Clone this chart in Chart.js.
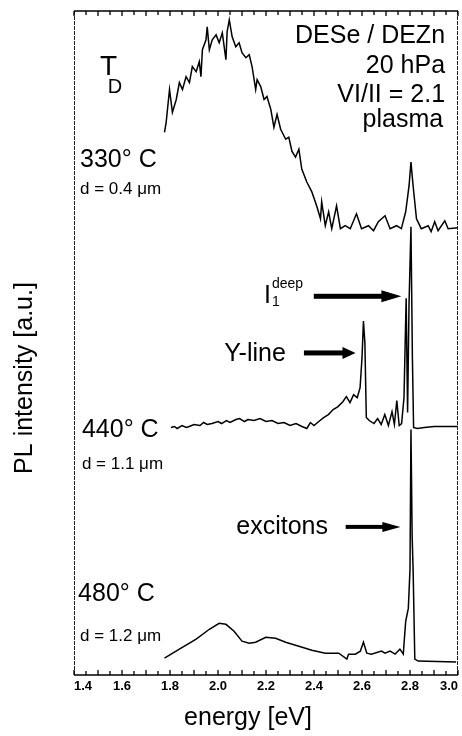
<!DOCTYPE html>
<html>
<head>
<meta charset="utf-8">
<script src="https://cdn.jsdelivr.net/npm/chart.js@4.4.0/dist/chart.umd.min.js"></script>
<style>
  html, body { margin: 0; padding: 0; background: #fff; }
  #chart { display: block; }
</style>
</head>
<body>
<canvas id="chart" width="462" height="736"></canvas>
<script>
// PL spectra for three deposition temperatures, stacked with offsets (a.u.)

const energy330 = [1.777, 1.784, 1.798, 1.810, 1.826, 1.839, 1.852, 1.867, 1.881, 1.893, 1.909, 1.922, 1.929, 1.935, 1.950, 1.955, 1.964, 1.976, 1.992, 2.005, 2.018, 2.033, 2.038, 2.047, 2.059, 2.074, 2.088, 2.100, 2.116, 2.130, 2.142, 2.157, 2.163, 2.178, 2.192, 2.204, 2.220, 2.233, 2.246, 2.261, 2.282, 2.295, 2.308, 2.323, 2.337, 2.349, 2.370, 2.391, 2.411, 2.427, 2.432, 2.447, 2.461, 2.474, 2.494, 2.510, 2.530, 2.551, 2.577, 2.598, 2.627, 2.648, 2.668, 2.696, 2.717, 2.744, 2.764, 2.782, 2.796, 2.804, 2.813, 2.827, 2.847, 2.876, 2.888, 2.903, 2.917, 2.945, 2.959, 3.000];
const intensity330 = [546, 556, 589, 566, 579, 596, 589, 602, 596, 612, 607, 617, 602, 629, 639, 652, 629, 639, 644, 636, 646, 619, 647, 659, 642, 632, 636, 626, 621, 624, 612, 589, 599, 592, 579, 582, 569, 551, 564, 549, 539, 541, 527, 521, 529, 509, 496, 486, 472, 459, 476, 452, 466, 449, 472, 449, 452, 449, 464, 449, 452, 447, 456, 462, 449, 452, 449, 466, 492, 516, 492, 459, 449, 452, 446, 456, 447, 457, 449, 450];

const energy440 = [1.804, 1.818, 1.830, 1.850, 1.868, 1.880, 1.900, 1.925, 1.940, 1.955, 1.975, 2.000, 2.015, 2.035, 2.050, 2.075, 2.090, 2.110, 2.125, 2.150, 2.175, 2.200, 2.225, 2.250, 2.275, 2.300, 2.325, 2.350, 2.370, 2.385, 2.400, 2.420, 2.440, 2.460, 2.480, 2.500, 2.520, 2.535, 2.550, 2.565, 2.580, 2.592, 2.600, 2.606, 2.612, 2.618, 2.630, 2.650, 2.665, 2.680, 2.695, 2.710, 2.725, 2.735, 2.745, 2.755, 2.765, 2.775, 2.784, 2.790, 2.796, 2.804, 2.810, 2.815, 2.830, 2.860, 2.900, 2.950, 3.000];
const intensity440 = [249, 250, 248, 251, 249, 250, 252, 251, 254, 252, 253, 255, 253, 256, 254, 257, 258, 255, 257, 256, 258, 255, 256, 253, 254, 251, 253, 250, 248, 254, 251, 255, 259, 262, 267, 270, 275, 280, 274, 282, 279, 289, 319, 356, 334, 259, 256, 253, 258, 252, 262, 251, 265, 252, 276, 251, 253, 279, 379, 264, 374, 451, 319, 249, 248, 249, 250, 250, 250];

const energy480 = [1.777, 1.839, 1.909, 1.964, 2.005, 2.033, 2.067, 2.100, 2.130, 2.157, 2.199, 2.240, 2.282, 2.337, 2.391, 2.447, 2.503, 2.537, 2.544, 2.572, 2.593, 2.606, 2.620, 2.639, 2.681, 2.696, 2.717, 2.738, 2.758, 2.772, 2.782, 2.793, 2.800, 2.804, 2.809, 2.813, 2.820, 2.834, 2.992];
const intensity480 = [17, 26, 36, 46, 52, 51, 44, 34, 32, 33, 38, 37, 33, 29, 25, 22, 22, 16, 21, 21, 24, 33, 22, 21, 24, 22, 24, 21, 26, 21, 54, 67, 106, 247, 139, 106, 16, 14, 13];

const xTickLabels = [1.4, 1.6, 1.8, 2.0, 2.2, 2.4, 2.6, 2.8, 3.0];
const xTitle = 'energy [eV]';
const yTitle = 'PL intensity [a.u.]';

const FONT = "'Liberation Sans', Arial, Helvetica, sans-serif";

const toPoints = (xs, ys) => xs.map((x, i) => ({ x, y: ys[i] }));

const notes = [
  { text: 'DESe / DEZn', x: 2.946, y: 636, size: 25, align: 'right' },
  { text: '20 hPa', x: 2.946, y: 606, size: 25, align: 'right' },
  { text: 'VI/II = 2.1', x: 2.946, y: 576, size: 25, align: 'right' },
  { text: 'plasma', x: 2.938, y: 551, size: 25, align: 'right' },
  { text: 'T', x: 1.508, y: 604, size: 28 },
  { text: 'D', x: 1.541, y: 586, size: 20 },
  { text: '330° C', x: 1.425, y: 511, size: 25 },
  { text: 'd = 0.4 μm', x: 1.425, y: 484, size: 17 },
  { text: '440° C', x: 1.433, y: 239, size: 25 },
  { text: 'd = 1.1 μm', x: 1.433, y: 207, size: 17 },
  { text: '480° C', x: 1.417, y: 74, size: 25 },
  { text: 'd = 1.2 μm', x: 1.425, y: 34, size: 17 },
  { text: 'Y-line', x: 2.026, y: 316, size: 25 },
  { text: 'I', x: 2.192, y: 374, size: 25 },
  { text: 'deep', x: 2.225, y: 389, size: 14 },
  { text: '1', x: 2.225, y: 371, size: 14 },
  { text: 'excitons', x: 2.076, y: 142, size: 25 }
];
const arrows = [
  { x0: 2.358, x1: 2.573, y: 324, w: 5, hl: 13, hw: 12 },
  { x0: 2.399, x1: 2.764, y: 381, w: 5, hl: 20, hw: 12 },
  { x0: 2.532, x1: 2.760, y: 149, w: 4, hl: 18, hw: 10 }
];

const decorations = {
  id: 'decorations',
  afterDraw(chart) {
    const { ctx, chartArea: a, scales: { x, y } } = chart;
    ctx.save();

    // frame
    ctx.strokeStyle = '#000';
    ctx.lineWidth = 1.3;
    ctx.beginPath();
    ctx.moveTo(a.left, a.top); ctx.lineTo(a.right, a.top);
    ctx.moveTo(a.left, a.bottom); ctx.lineTo(a.right, a.bottom);
    ctx.stroke();
    ctx.strokeStyle = '#222';
    ctx.lineWidth = 1;
    ctx.setLineDash([4, 1]);
    ctx.beginPath();
    ctx.moveTo(a.left + 0.5, a.top); ctx.lineTo(a.left + 0.5, a.bottom);
    ctx.moveTo(a.right - 0.5, a.top); ctx.lineTo(a.right - 0.5, a.bottom);
    ctx.stroke();
    ctx.setLineDash([]);

    // inward tick marks, top and bottom
    ctx.strokeStyle = '#000';
    ctx.lineWidth = 1.3;
    ctx.beginPath();
    for (let i = 0; i <= 32; i++) {
      const px = x.getPixelForValue(1.4 + i * 0.05);
      const len = i % 2 === 0 ? 5 : 4;
      ctx.moveTo(px, a.bottom); ctx.lineTo(px, a.bottom - len);
      ctx.moveTo(px, a.top); ctx.lineTo(px, a.top + len);
    }
    ctx.stroke();

    // notes
    ctx.fillStyle = '#000';
    ctx.textBaseline = 'alphabetic';
    notes.forEach(n => {
      ctx.font = n.size + 'px ' + FONT;
      ctx.textAlign = n.align || 'left';
      ctx.fillText(n.text, x.getPixelForValue(n.x), y.getPixelForValue(n.y));
    });

    // arrows
    arrows.forEach(ar => {
      const x0 = x.getPixelForValue(ar.x0), x1 = x.getPixelForValue(ar.x1);
      const py = y.getPixelForValue(ar.y);
      ctx.fillRect(x0, py - ar.w / 2, x1 - ar.hl - x0 + 1, ar.w);
      ctx.beginPath();
      ctx.moveTo(x1, py);
      ctx.lineTo(x1 - ar.hl, py - ar.hw / 2);
      ctx.lineTo(x1 - ar.hl, py + ar.hw / 2);
      ctx.closePath();
      ctx.fill();
    });

    // axis titles
    ctx.font = '25px ' + FONT;
    ctx.textAlign = 'center';
    ctx.textBaseline = 'middle';
    ctx.fillText(xTitle, 248, 718);
    ctx.translate(25, 378);
    ctx.rotate(-Math.PI / 2);
    ctx.fillText(yTitle, 0, 0);
    ctx.restore();
  }
};

const line = (data) => ({
  data,
  borderColor: '#000',
  borderWidth: 1.5,
  pointRadius: 0,
  tension: 0,
  fill: false
});

new Chart(document.getElementById('chart'), {
  type: 'line',
  data: {
    datasets: [
      { label: '330 °C', ...line(toPoints(energy330, intensity330)) },
      { label: '440 °C', ...line(toPoints(energy440, intensity440)) },
      { label: '480 °C', ...line(toPoints(energy480, intensity480)) }
    ]
  },
  options: {
    responsive: false,
    animation: false,
    layout: { padding: { left: 74, right: 2, top: 11, bottom: 37.4 } },
    plugins: { legend: { display: false }, tooltip: { enabled: false } },
    scales: {
      x: {
        type: 'linear',
        min: 1.4,
        max: 3.0,
        afterBuildTicks: (scale) => { scale.ticks = xTickLabels.map(v => ({ value: v })); },
        ticks: {
          align: 'inner',
          padding: 4,
          color: '#000',
          font: { family: FONT, size: 13, weight: 'bold' },
          callback: (v) => Number(v).toFixed(1)
        },
        grid: { display: false, drawTicks: false },
        border: { display: false }
      },
      y: {
        display: false,
        min: 0,
        max: 668
      }
    }
  },
  plugins: [decorations]
});
</script>
</body>
</html>
